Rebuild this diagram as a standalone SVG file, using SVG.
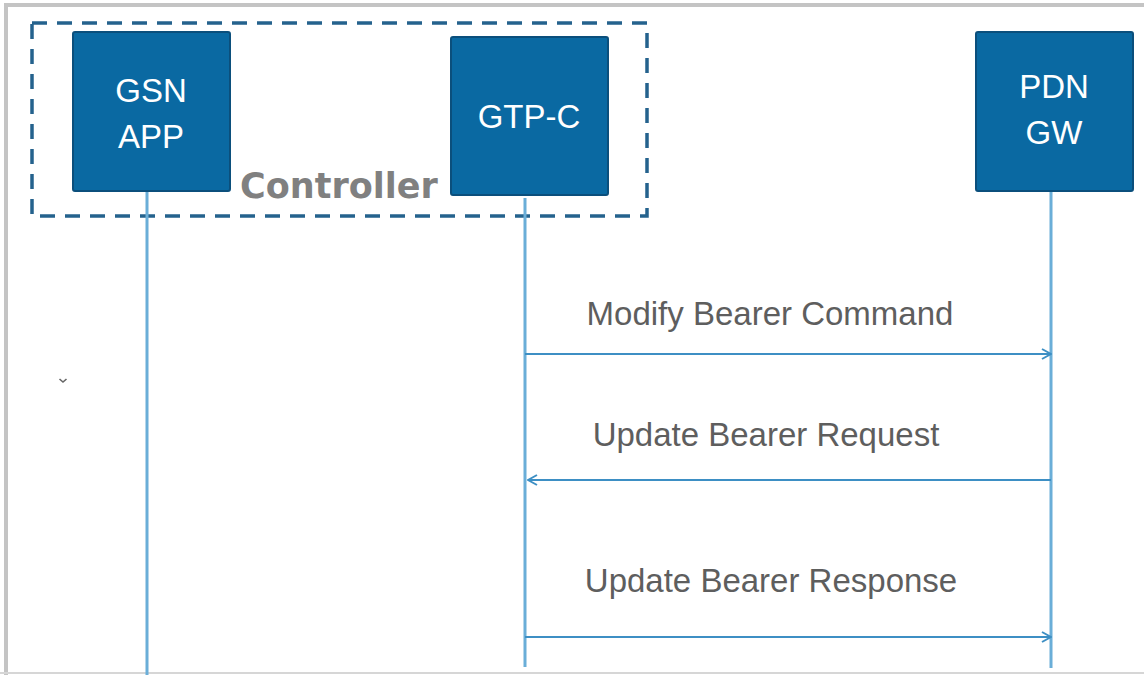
<svg xmlns="http://www.w3.org/2000/svg" width="1144" height="675" viewBox="0 0 1144 675">
<style>
.frame{fill:none;stroke:#c4c4c4;stroke-width:4}
.box{fill:#0a69a2;stroke:#0b4f7c;stroke-width:2}
.boxtxt{font-family:"Liberation Sans",Arial,sans-serif;font-size:33px;fill:#ffffff;text-anchor:middle}
.life{stroke:#6aaed8;stroke-width:3;fill:none}
.msg{stroke:#3d8fc4;stroke-width:2.2;fill:none}
.lbl{font-family:"Liberation Sans",Arial,sans-serif;font-size:33px;fill:#5e5e5e;text-anchor:middle}
.ctrl{fill:none;stroke:#24628d;stroke-width:3.5;stroke-dasharray:15 10}
.ctrltxt{font-family:"DejaVu Sans",Verdana,sans-serif;font-weight:bold;font-size:35px;fill:#808080}
</style>
<defs>
<marker id="arr" viewBox="0 0 12 12" refX="11" refY="6" markerWidth="12" markerHeight="12" markerUnits="userSpaceOnUse" orient="auto">
<path d="M2,1 L11,6 L2,11" fill="none" stroke="#3d8fc4" stroke-width="2"/>
</marker>
</defs>
<rect x="0" y="0" width="1144" height="675" fill="#ffffff"/>
<path class="frame" d="M6,675 V5 H1144"/>
<line x1="0" y1="673" x2="1144" y2="673" stroke="#d6d6d6" stroke-width="2"/>
<g id="controller">
<rect class="ctrl" x="32" y="23" width="615" height="193"/>
<text class="ctrltxt" x="240" y="198">Controller</text>
</g>
<g id="connectors">
<line class="life" x1="147" y1="191" x2="147" y2="675"/>
<line class="life" x1="525" y1="198" x2="525" y2="667"/>
<line class="life" x1="1051" y1="191" x2="1051" y2="668"/>
<line class="msg" x1="525" y1="354" x2="1051" y2="354" marker-end="url(#arr)"/>
<line class="msg" x1="1051" y1="480" x2="528" y2="480" marker-end="url(#arr)"/>
<line class="msg" x1="525" y1="637" x2="1051" y2="637" marker-end="url(#arr)"/>
<text class="lbl" x="770" y="325">Modify Bearer Command</text>
<text class="lbl" x="766" y="446">Update Bearer Request</text>
<text class="lbl" x="771" y="592">Update Bearer Response</text>
</g>
<g id="gsn-app">
<rect class="box" x="73" y="32" width="157" height="159" rx="2"/>
<text class="boxtxt" x="151" y="102">GSN</text>
<text class="boxtxt" x="151" y="148">APP</text>
</g>
<g id="gtp-c">
<rect class="box" x="451" y="37" width="157" height="158" rx="2"/>
<text class="boxtxt" x="529" y="128">GTP-C</text>
</g>
<g id="pdn-gw">
<rect class="box" x="976" y="32" width="157" height="159" rx="2"/>
<text class="boxtxt" x="1054" y="98">PDN</text>
<text class="boxtxt" x="1054" y="144">GW</text>
</g>
<path d="M59.5,379 L63,382 L66.5,379" fill="none" stroke="#666" stroke-width="1.6"/>
</svg>
